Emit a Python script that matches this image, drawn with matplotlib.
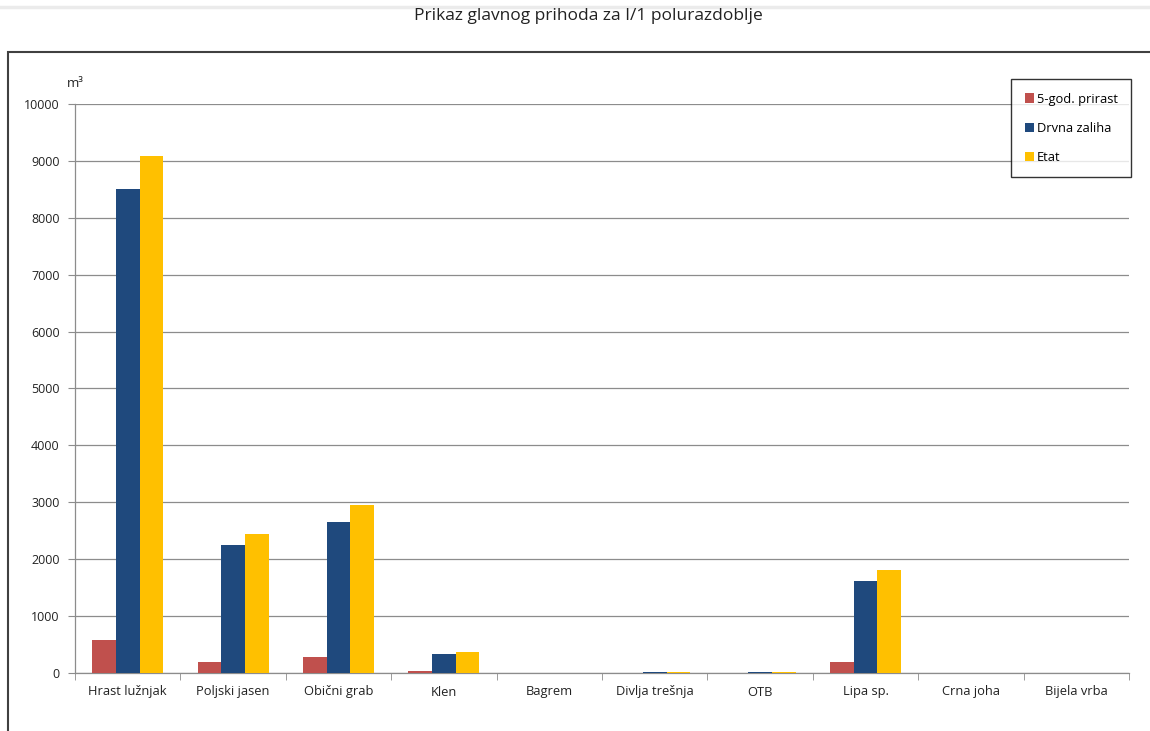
import numpy as np
import matplotlib
matplotlib.use('Agg')
import matplotlib.pyplot as plt
from matplotlib.patches import Rectangle
from matplotlib.lines import Line2D

categories = ['Hrast lužnjak', 'Poljski jasen', 'Obični grab', 'Klen', 'Bagrem',
              'Divlja trešnja', 'OTB', 'Lipa sp.', 'Crna joha', 'Bijela vrba']
prirast = [580, 190, 280, 30, 0, 5, 5, 190, 0, 0]
zaliha = [8500, 2250, 2650, 330, 0, 20, 20, 1610, 0, 0]
etat = [9090, 2440, 2950, 370, 0, 20, 20, 1810, 0, 0]
series_names = ['5-god. prirast', 'Drvna zaliha', 'Etat']
colors = ['#c0504d', '#1f497d', '#ffc000']

plt.rcParams['font.family'] = ['Open Sans', 'DejaVu Sans']

fig = plt.figure(figsize=(11.5, 7.31), dpi=100)

# outer chart frame and top rule
fig.add_artist(Rectangle((8 / 1150, -0.01), 1.0, 1 - 52 / 731 + 0.01,
                         transform=fig.transFigure, fill=False,
                         edgecolor='#404040', lw=1.5))
fig.add_artist(Line2D([0, 1], [1 - 7 / 731, 1 - 7 / 731], transform=fig.transFigure,
                      color='#ebebeb', lw=2.5))
fig.text(588 / 1150, 1 - 16 / 731, 'Prikaz glavnog prihoda za I/1 polurazdoblje',
         ha='center', va='center', fontsize=12.5, color='#222222')

ax = fig.add_axes([75 / 1150, 1 - 673 / 731, (1129 - 75) / 1150, (673 - 104) / 731])

x = np.arange(len(categories))
w = 0.225
for i, (vals, name, c) in enumerate(zip([prirast, zaliha, etat], series_names, colors)):
    ax.bar(x + (i - 1) * w, vals, w, color=c, label=name, zorder=3)

ax.set_xlim(-0.5, len(categories) - 0.5)
ax.set_ylim(0, 10000)
ax.set_yticks(np.arange(0, 10001, 1000))
ax.set_yticklabels([str(v) for v in range(0, 10001, 1000)], fontsize=9, color='#222222')
ax.yaxis.grid(True, color='#8c8c8c', lw=0.9, zorder=0)
ax.set_xticks(x)
ax.set_xticklabels(categories, fontsize=9.3, color='#222222')
ax.set_xticks(np.arange(-0.5, len(categories), 1), minor=True)
ax.tick_params(axis='x', which='major', length=0, pad=9)
ax.tick_params(axis='x', which='minor', length=5, color='#8c8c8c', direction='out')
ax.tick_params(axis='y', length=5, color='#8c8c8c', direction='out', pad=6)
for s in ['top', 'right']:
    ax.spines[s].set_visible(False)
for s in ['left', 'bottom']:
    ax.spines[s].set_color('#8c8c8c')
    ax.spines[s].set_linewidth(0.9)
ax.text(-0.0, 1.03, 'm³', transform=ax.transAxes, ha='center', fontsize=9.5, color='#222222')

leg = ax.legend(loc='upper right', bbox_to_anchor=(1.002, 1.044), frameon=True, fancybox=False,
                fontsize=9.3, handlelength=0.7, handleheight=0.7, handletextpad=0.2,
                labelspacing=1.25, borderpad=1.05, borderaxespad=0)
leg.get_frame().set_edgecolor('black')
leg.get_frame().set_linewidth(1.0)

fig.savefig('out.png', dpi=100)
